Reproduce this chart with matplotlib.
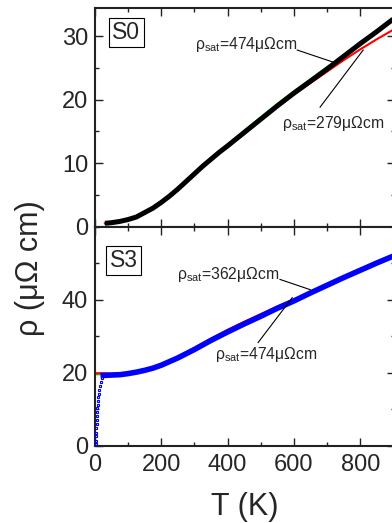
import matplotlib
matplotlib.use("Agg")
import matplotlib.pyplot as plt
from matplotlib.ticker import MultipleLocator

plt.rcParams['font.family'] = ['Liberation Sans', 'DejaVu Sans']
plt.rcParams['mathtext.fontset'] = 'custom'
plt.rcParams['mathtext.rm'] = 'Liberation Sans'

# S0 sample: measured data and two saturation fits
t_s0 = [30, 50, 75, 100, 125, 150, 175, 200, 225, 250, 275, 300, 325, 350, 375,
        400, 450, 500, 550, 600, 650, 700, 750, 800, 850, 900, 950]
rho_s0 = [0.5, 0.6, 0.8, 1.1, 1.5, 2.2, 2.9, 3.8, 4.8, 5.9, 7.1, 8.3, 9.5, 10.6,
          11.7, 12.7, 14.8, 16.9, 19.0, 21.0, 22.9, 24.8, 26.8, 28.8, 30.7, 32.7, 34.6]
fit_s0_474 = [0.5, 0.6, 0.8, 1.1, 1.5, 2.2, 2.9, 3.8, 4.8, 5.9, 7.1, 8.3, 9.5, 10.7,
              11.8, 12.9, 15.1, 17.2, 19.3, 21.3, 23.2, 25.1, 27.0, 28.9, 30.8, 32.7, 34.6]
fit_s0_279 = [0.5, 0.6, 0.8, 1.1, 1.6, 2.3, 3.0, 3.9, 4.9, 6.0, 7.2, 8.3, 9.5, 10.6,
              11.7, 12.7, 14.8, 16.8, 18.9, 20.8, 22.6, 24.4, 26.2, 27.9, 29.5, 31.0, 32.5]

# S3 sample
t_s3_low = [2, 3, 3, 4, 4, 5, 5, 6, 6, 7, 8, 9, 10, 11, 12, 14, 17, 20]
rho_s3_low = [0.3, 1.2, 2.5, 3.5, 4.8, 6.0, 7.0, 8.0, 9.2, 10.2, 11.2, 12.3,
              13.3, 14.2, 15.2, 16.3, 17.5, 18.6]
t_s3 = [25, 50, 75, 100, 125, 150, 175, 200, 250, 300, 350, 400, 450, 500,
        550, 600, 650, 700, 750, 800, 850, 900, 950]
rho_s3 = [19.2, 19.3, 19.4, 19.7, 20.1, 20.6, 21.2, 22.0, 24.0, 26.3, 28.8,
          31.1, 33.3, 35.4, 37.6, 39.6, 41.8, 43.9, 46.0, 48.0, 50.0, 51.9, 53.8]
t_fit3 = [0, 25, 50, 100, 150, 200, 250, 300, 350, 400, 450, 500, 550, 600,
          650, 700, 750, 800, 850, 900, 950]
fit_s3_362 = [19.8, 19.8, 19.7, 19.9, 20.8, 22.2, 24.3, 26.8, 29.3, 31.7, 33.9,
              36.0, 38.1, 40.0, 42.0, 44.0, 46.0, 47.9, 49.8, 51.7, 53.5]
fit_s3_474 = [19.5, 19.5, 19.4, 19.8, 20.7, 22.1, 24.1, 26.4, 28.9, 31.2, 33.4,
              35.5, 37.7, 39.7, 41.9, 44.0, 46.1, 48.1, 50.1, 52.0, 53.9]

txt = '#262626'
fig = plt.figure(figsize=(3.92, 5.23), dpi=100)
W, H = 392, 523
ax1 = fig.add_axes([95 / W, (H - 226.5) / H, 300 / W, 219 / H])
ax2 = fig.add_axes([95 / W, (H - 445.5) / H, 300 / W, 219 / H])

ax1.plot(t_s0, fit_s0_474, color='#00dd00', lw=1.5, zorder=2)
ax1.plot(t_s0, fit_s0_279, color='red', lw=1.5, zorder=2)
ax1.plot(t_s0, rho_s0, color='black', lw=3.6, zorder=3, solid_capstyle='butt')

ax2.plot(t_fit3, fit_s3_474, color='#00dd00', lw=1.5, zorder=2)
ax2.plot(t_fit3, fit_s3_362, color='red', lw=1.5, zorder=2)
ax2.plot(t_s3, rho_s3, color='blue', lw=4.0, zorder=3)
ax2.plot(t_s3_low, rho_s3_low, 's', color='blue', ms=2.0, mfc='none', mew=0.8, zorder=3)

ax1.set_xlim(0, 905)
ax2.set_xlim(0, 905)
ax1.set_ylim(0, 34.5)
ax2.set_ylim(0, 60)

for ax in (ax1, ax2):
    ax.xaxis.set_major_locator(MultipleLocator(200))
    ax.xaxis.set_minor_locator(MultipleLocator(100))
    ax.tick_params(which='both', direction='in', top=True, right=True,
                   width=1.0, colors='#222222', labelcolor=txt, labelsize=17)
    ax.tick_params(which='major', length=6)
    ax.tick_params(which='minor', length=3)
    ax.tick_params(axis='y', pad=5)
    ax.tick_params(axis='x', pad=6)
    for s in ax.spines.values():
        s.set_linewidth(1.5)
        s.set_color('#222222')

ax1.yaxis.set_major_locator(MultipleLocator(10))
ax1.yaxis.set_minor_locator(MultipleLocator(5))
ax2.yaxis.set_major_locator(MultipleLocator(20))
ax2.yaxis.set_minor_locator(MultipleLocator(10))
ax1.tick_params(axis='x', labelbottom=False)
ax2.set_yticks([0, 20, 40])

box = dict(boxstyle='square,pad=0.15', fc='white', ec='black', lw=0.8)
ax1.text(0.104, 0.886, 'S0', transform=ax1.transAxes, fontsize=16.5,
         color=txt, ha='center', va='center', bbox=box)
ax2.text(0.095, 0.845, 'S3', transform=ax2.transAxes, fontsize=16.5,
         color=txt, ha='center', va='center', bbox=box)

def label(ax, s, xy_text, p0, p1):
    ax.text(xy_text[0], xy_text[1], s, fontsize=11.3, color=txt,
            ha='left', va='center')
    ax.plot([p0[0], p1[0]], [p0[1], p1[1]], color='black', lw=0.8, zorder=4)

label(ax1, r'ρ$_{\mathregular{sat}}$=474μΩcm', (302, 28.6), (610, 27.8), (718, 25.9))
label(ax1, r'ρ$_{\mathregular{sat}}$=279μΩcm', (564, 16.3), (679, 18.8), (809, 27.8))
label(ax2, r'ρ$_{\mathregular{sat}}$=362μΩcm', (248, 46.8), (558, 45.5), (649, 42.7))
label(ax2, r'ρ$_{\mathregular{sat}}$=474μΩcm', (362, 24.9), (492, 28.2), (595, 40.5))

fig.text(30 / W, 1 - 268 / H, 'ρ (μΩ cm)', rotation=90, fontsize=22,
         color=txt, ha='center', va='center')
fig.text(245 / W, 1 - 507 / H, 'T (K)', fontsize=22, color=txt,
         ha='center', va='center')

fig.savefig('out.png', dpi=100)
